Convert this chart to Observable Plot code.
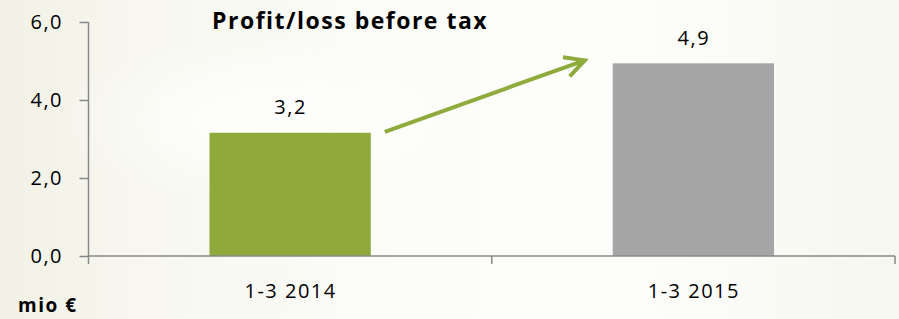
<!DOCTYPE html>
<html><head><meta charset="utf-8">
<script src="https://cdn.jsdelivr.net/npm/d3@7"></script>
<script src="https://cdn.jsdelivr.net/npm/@observablehq/plot@0.6"></script>
<style>
html,body{margin:0;padding:0;}
body{width:899px;height:319px;overflow:hidden;
  background:
    radial-gradient(ellipse 300px 120px at 260px 120px, rgba(255,255,255,0.85), rgba(255,255,255,0) 70%),
    linear-gradient(90deg,#f2f1e6 0%,#f8f8f1 18%,#fcfcf9 45%,#fdfdfb 70%,#f7f7f0 100%);
  font-family:"Open Sans",sans-serif;}
#wrap{position:relative;width:899px;height:319px;}
#chart svg{position:absolute;left:0;top:0;}
#chart svg text{letter-spacing:1.5px;}
#title{position:absolute;left:212px;top:9px;font:700 23px/1 "Open Sans",sans-serif;letter-spacing:1.5px;color:#000;white-space:nowrap;}
#unit{position:absolute;left:18px;top:296px;font:700 19px/1 "Open Sans",sans-serif;letter-spacing:1.5px;color:#000;white-space:nowrap;}
</style></head>
<body><div id="wrap"><div id="chart"></div><div id="title"></div><div id="unit"></div></div>
<script>
const categories = ["1-3 2014", "1-3 2015"];
const values = [3.16, 4.94];
const barColors = ["#8fa93c", "#a5a5a5"];
const yTicks = [0, 2, 4, 6];
const titleText = "Profit/loss before tax";
const unitText = "mio €";

const data = categories.map((c, i) => ({cat: c, value: values[i], color: barColors[i]}));
const fmt = d => d3.format(".1f")(d).replace(".", ",");
const axisColor = "#888888";
const arrowColor = "#8eab3b";

function decorations(index, scales, vals, dims) {
  const {x, y} = scales;
  const g = d3.create("svg:g");
  const x0 = dims.marginLeft, x1 = dims.width - dims.marginRight;
  const yb = y(0), yt = y(d3.max(yTicks));
  const step = x.step(), bw = x.bandwidth(), pi = x.paddingInner();
  // axis lines
  g.append("line").attr("x1", x0).attr("x2", x0).attr("y1", yt).attr("y2", yb)
    .attr("stroke", axisColor).attr("stroke-width", 1.5);
  g.append("line").attr("x1", x0).attr("x2", x1).attr("y1", yb).attr("y2", yb)
    .attr("stroke", axisColor).attr("stroke-width", 1.5);
  // category boundary ticks
  const bounds = categories.map(c => x(c) - step * pi / 2);
  bounds.push(x(categories[categories.length - 1]) + bw + step * pi / 2);
  for (const b of bounds) {
    g.append("line").attr("x1", b).attr("x2", b).attr("y1", yb).attr("y2", yb + 8)
      .attr("stroke", axisColor).attr("stroke-width", 1.5);
  }
  // arrow between bars
  const sx = x(categories[0]) + bw + 14, sy = y(values[0]) - 1;
  const ex = x(categories[1]) - 28, ey = y(values[1]) - 3;
  const ang = Math.atan2(ey - sy, ex - sx);
  const L = 22, h = 27.5 * Math.PI / 180;
  const a1 = [ex - L * Math.cos(ang - h), ey - L * Math.sin(ang - h)];
  const a2 = [ex - L * Math.cos(ang + h), ey - L * Math.sin(ang + h)];
  g.append("path")
    .attr("d", `M${sx},${sy}L${ex},${ey}M${a1[0]},${a1[1]}L${ex},${ey}L${a2[0]},${a2[1]}`)
    .attr("fill", "none").attr("stroke", arrowColor).attr("stroke-width", 4)
    .attr("stroke-linejoin", "miter").attr("stroke-linecap", "butt");
  return g.node();
}

const plot = Plot.plot({
  width: 899, height: 319,
  marginTop: 22, marginBottom: 63, marginLeft: 88.5, marginRight: 4,
  style: {background: "transparent", fontFamily: "'Open Sans', sans-serif", fontSize: "20px", color: "#000", overflow: "visible"},
  x: {type: "band", domain: categories, paddingInner: 0.6, paddingOuter: 0.3, round: false, label: null, axis: null},
  y: {domain: [0, 6], label: null, axis: null},
  color: {type: "identity"},
  marks: [
    Plot.barY(data, {x: "cat", y: "value", fill: "color"}),
    Plot.axisY(yTicks, {tickFormat: fmt, tickSize: 9, tickPadding: 17, stroke: axisColor, strokeWidth: 1.5, fill: "#000", fontSize: 20, label: null}),
    Plot.axisX({tickSize: 0, tickPadding: 27, fill: "#000", fontSize: 20, label: null}),
    Plot.text(data, {x: "cat", y: "value", text: d => fmt(d.value), dy: -19, lineAnchor: "bottom", fontSize: 20, fill: "#000"}),
    decorations
  ]
});
document.getElementById("chart").appendChild(plot);
document.getElementById("title").textContent = titleText;
document.getElementById("unit").textContent = unitText;
</script>
</body></html>
